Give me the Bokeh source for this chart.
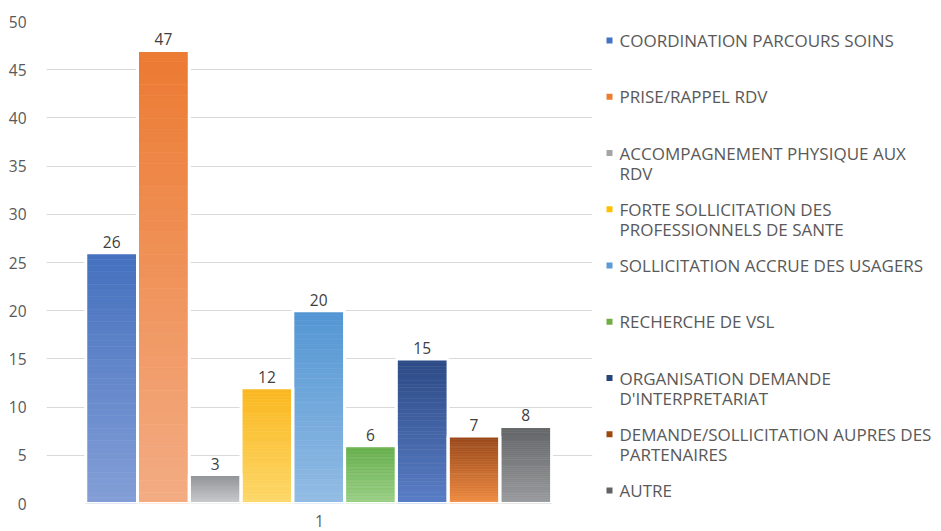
from bokeh.plotting import figure
from bokeh.models import Range1d, FixedTicker, ColumnDataSource
from bokeh.layouts import row
from bokeh.embed import file_html
from bokeh.resources import INLINE
from bokeh.core.properties import value

# ---------------- data ----------------
categories = [
    "COORDINATION PARCOURS SOINS",
    "PRISE/RAPPEL RDV",
    "ACCOMPAGNEMENT PHYSIQUE AUX\nRDV",
    "FORTE SOLLICITATION DES\nPROFESSIONNELS DE SANTE",
    "SOLLICITATION ACCRUE DES USAGERS",
    "RECHERCHE DE VSL",
    "ORGANISATION DEMANDE\nD'INTERPRETARIAT",
    "DEMANDE/SOLLICITATION AUPRES DES\nPARTENAIRES",
    "AUTRE",
]
values = [26, 47, 3, 12, 20, 6, 15, 7, 8]
group_label = "1"
y_ticks = [0, 5, 10, 15, 20, 25, 30, 35, 40, 45, 50]

top_colors = ["#4470BE", "#EC7A32", "#8F9195", "#FAB71F", "#5396D3",
              "#66AF4C", "#2C4A85", "#98471A", "#626466"]
bottom_colors = ["#849FD7", "#F3AC83", "#CACCCF", "#FDD86A", "#93BCE4",
                 "#9ACF86", "#5A7EC6", "#F18C42", "#9A9C9E"]
legend_colors = ["#4472C4", "#ED7D31", "#A5A5A5", "#FFC000", "#5B9BD5",
                 "#70AD47", "#264478", "#9E480E", "#636363"]

FONT = "Open Sans"
TXT = "#595959"

def hex2rgb(h):
    h = h.lstrip("#")
    return tuple(int(h[i:i + 2], 16) for i in (0, 2, 4))

def mix(c1, c2, t):
    a, b = hex2rgb(c1), hex2rgb(c2)
    return "#%02x%02x%02x" % tuple(round(a[i] + (b[i] - a[i]) * t) for i in range(3))

n = len(values)
slot = 0.0948
centers = [0.9985 + (i - (n - 1) / 2) * slot for i in range(n)]

# gradient slices
N = 40
L, R, B, T, C = [], [], [], [], []
for i, v in enumerate(values):
    for k in range(N):
        L.append(centers[i] - slot / 2)
        R.append(centers[i] + slot / 2)
        B.append(v * k / N)
        T.append(v * (k + 1) / N)
        C.append(mix(bottom_colors[i], top_colors[i], (k + 0.5) / N))
slices = ColumnDataSource(dict(left=L, right=R, bottom=B, top=T, color=C))

bars = ColumnDataSource(dict(
    x=centers, top=values,
    left=[c - slot / 2 for c in centers], right=[c + slot / 2 for c in centers],
    bottom=[0] * n, label=[str(v) for v in values]))

p = figure(width=600, height=531, output_backend="svg", toolbar_location=None,
           x_range=Range1d(0.5, 1.5), y_range=Range1d(0, 50),
           min_border_left=46, min_border_right=8, min_border_top=21,
           min_border_bottom=28)
p.outline_line_color = None
p.background_fill_color = "white"
p.border_fill_color = "white"

p.quad(left="left", right="right", bottom="bottom", top="top", source=slices,
       fill_color="color", line_color="color", line_width=0.6)
p.quad(left="left", right="right", bottom="bottom", top="top", source=bars,
       fill_color=None, line_color="white", line_width=3)
p.text(x="x", y="top", text="label", source=bars, text_align="center",
       text_baseline="bottom", y_offset=-5, text_font=value(FONT),
       text_font_size="15.5px", text_color="#404040")

p.xgrid.visible = False
p.ygrid.grid_line_color = "#D9D9D9"
p.ygrid.grid_line_width = 1
p.yaxis.ticker = FixedTicker(ticks=y_ticks)
p.xaxis.ticker = FixedTicker(ticks=[1])
p.xaxis.major_label_overrides = {1: group_label}
for ax in (p.xaxis, p.yaxis):
    ax.axis_line_color = None
    ax.major_tick_line_color = None
    ax.minor_tick_line_color = None
    ax.major_label_text_font = FONT
    ax.major_label_text_font_size = "15.5px"
    ax.major_label_text_color = TXT
p.yaxis.major_label_standoff = 14
p.xaxis.major_label_standoff = 5

# ---------------- legend ----------------
# frame is aligned with the main plot frame (pixel rows 21..503)
lg = figure(width=341, height=531, output_backend="svg", toolbar_location=None,
            x_range=Range1d(0, 341), y_range=Range1d(503, 21),
            min_border=0, min_border_top=21, min_border_bottom=28)
lg.axis.visible = False
lg.grid.visible = False
lg.outline_line_color = None
lg.background_fill_color = "white"
lg.border_fill_color = "white"

mx, my, mc, tx, ty, tt = [], [], [], [], [], []
for i, cat in enumerate(categories):
    y0 = 40 + i * 56.25
    mx.append(9); my.append(y0); mc.append(legend_colors[i])
    for j, line in enumerate(cat.split("\n")):
        tx.append(19); ty.append(y0 + j * 20); tt.append(line)
lg.scatter(x=mx, y=my, marker="square", size=6, fill_color=mc, line_color=None)
lg.text(x=tx, y=ty, text=tt, text_baseline="middle", text_align="left",
        text_font=value(FONT), text_font_size="17px", text_color=TXT)

layout = row(p, lg, spacing=0)
open("out.html", "w").write(file_html(layout, INLINE))
